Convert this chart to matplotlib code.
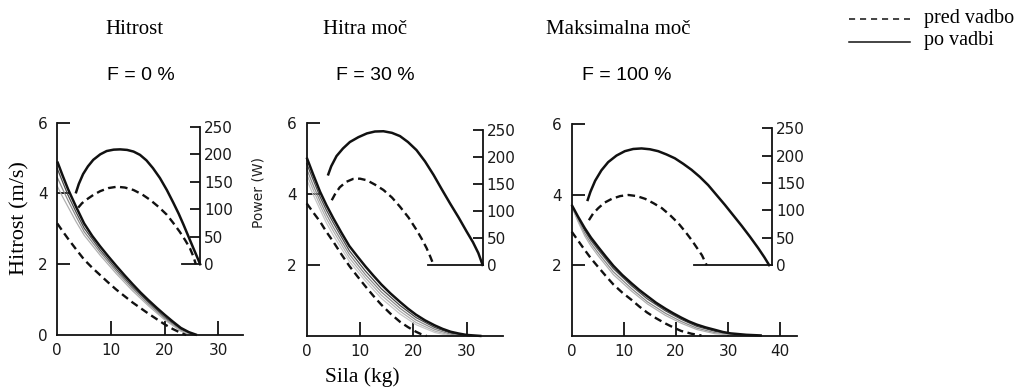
import matplotlib
matplotlib.use("Agg")
import matplotlib.pyplot as plt
from matplotlib.lines import Line2D

W, H = 1024, 388

# ---------------- data ----------------
titles = ["Hitrost", "Hitra moč", "Maksimalna moč"]
loads = ["F = 0 %", "F = 30 %", "F = 100 %"]
x_ticks = [[0, 10, 20, 30], [0, 10, 20, 30], [0, 10, 20, 30, 40]]
y_ticks = [[0, 2, 4, 6], [2, 4, 6], [2, 4, 6]]
power_ticks = [0, 50, 100, 150, 200, 250]
legend_labels = ["pred vadbo", "po vadbi"]

# panel 1 (Hitrost) - velocity (m/s) vs force (kg)
p1_f_post = [0, 1, 2, 3.5, 5, 6.5, 8, 9.5, 11, 12.5, 14, 15.5, 17, 18.5, 20, 21.5, 23, 24.5, 26.0]
p1_v_post = [4.9, 4.5, 4.12, 3.62, 3.15, 2.8, 2.5, 2.22, 1.95, 1.69, 1.44, 1.2, 0.98, 0.77, 0.57, 0.38, 0.2, 0.08, 0]
p1_f_pre = [0, 1, 2, 3.5, 5, 6.5, 8, 9.5, 11, 12.5, 14, 15.5, 17, 18.5, 20, 21.5, 23, 24.0]
p1_v_pre = [3.15, 2.93, 2.72, 2.42, 2.13, 1.9, 1.69, 1.48, 1.28, 1.1, 0.92, 0.76, 0.6, 0.45, 0.3, 0.17, 0.06, 0]
p1_f_g1 = [0, 1, 2, 3.5, 5, 8, 11, 14, 17, 20, 23, 25.8]
p1_v_g1 = [4.7, 4.32, 3.95, 3.47, 3.02, 2.4, 1.86, 1.36, 0.92, 0.5, 0.16, 0]
p1_f_g2 = [0, 1, 2, 3.5, 5, 8, 11, 14, 17, 20, 23, 25.5]
p1_v_g2 = [4.45, 4.12, 3.8, 3.35, 2.92, 2.33, 1.8, 1.31, 0.87, 0.47, 0.13, 0]
p1_f_g3 = [0, 1, 2, 3.5, 5, 8, 11, 14, 17, 20, 23, 25.2]
p1_v_g3 = [4.2, 3.9, 3.62, 3.2, 2.82, 2.25, 1.73, 1.25, 0.82, 0.43, 0.11, 0]
# panel 1 - power (W) vs force (kg)
p1_pf_post = [3.5, 4.0, 4.8, 5.7, 6.7, 8.0, 9.2, 10.5, 11.7, 13.0, 14.2, 15.4, 16.6, 17.8,
              19.1, 20.4, 21.6, 22.6, 23.5, 24.4, 25.3, 26.0, 26.6]
p1_p_post = [131, 146, 164, 178, 190, 200, 206, 208.5, 209, 208, 205, 199, 189, 175,
             157, 135, 112, 92, 72, 51, 30, 14, 0]
p1_pf_pre = [3.9, 4.6, 5.5, 6.7, 8.0, 9.5, 11.1, 12.6, 14.2, 15.8, 17.3, 18.9, 20.4, 21.6,
             22.8, 23.8, 24.7, 25.3, 25.8]
p1_p_pre = [103, 111, 118, 126, 133, 138.5, 141, 139.5, 135, 127, 117, 104, 90, 75,
            59, 44, 29, 15, 0]

# panel 2 (Hitra moč)
p2_f_post = [0, 1.2, 2.5, 3.7, 5, 6.5, 8, 9.5, 11, 12.5, 14, 15.7, 17.5, 19, 20.5, 22.2, 24, 25.5, 27, 28.5, 30, 32.8]
p2_v_post = [5.02, 4.55, 4.06, 3.68, 3.31, 2.91, 2.53, 2.24, 1.96, 1.7, 1.45, 1.2, 0.96, 0.77, 0.6, 0.44, 0.3, 0.2, 0.12, 0.07, 0.03, 0]
p2_f_pre = [0, 1.2, 2.5, 3.7, 5, 6.5, 8, 9.5, 11, 12.5, 14, 15.7, 17.5, 19, 20.5, 21.5, 22.5]
p2_v_pre = [3.73, 3.48, 3.22, 2.93, 2.65, 2.3, 1.97, 1.68, 1.4, 1.13, 0.88, 0.63, 0.4, 0.25, 0.12, 0.05, 0]
p2_f_g1 = [0, 1.2, 2.5, 3.7, 5, 8, 11, 14, 17.5, 20.5, 24, 27, 30.5]
p2_v_g1 = [4.85, 4.4, 3.92, 3.54, 3.18, 2.4, 1.83, 1.33, 0.86, 0.52, 0.24, 0.08, 0]
p2_f_g2 = [0, 1.2, 2.5, 3.7, 5, 8, 11, 14, 17.5, 20.5, 24, 27, 29.5]
p2_v_g2 = [4.7, 4.25, 3.8, 3.42, 3.06, 2.3, 1.73, 1.24, 0.78, 0.45, 0.19, 0.05, 0]
p2_f_g3 = [0, 1.2, 2.5, 3.7, 5, 8, 11, 14, 17.5, 20.5, 24, 27, 28.5]
p2_v_g3 = [4.55, 4.12, 3.68, 3.3, 2.95, 2.2, 1.64, 1.15, 0.7, 0.38, 0.14, 0.02, 0]
p2_f_g4 = [0, 1.2, 2.5, 3.7, 5, 8, 11, 14, 17.5, 20.5, 24, 27]
p2_v_g4 = [4.4, 3.98, 3.56, 3.18, 2.83, 2.1, 1.55, 1.06, 0.62, 0.32, 0.1, 0]
p2_pf_post = [4.05, 4.6, 5.6, 6.8, 8.1, 9.7, 11.3, 12.8, 14.4, 16.0, 17.5, 19.0, 20.6, 22.2,
              23.8, 25.3, 26.9, 28.5, 30.0, 31.2, 32.2, 33.0]
p2_p_post = [168, 183, 202, 216, 228, 237, 244, 247.5, 248, 245, 239, 228, 213, 192,
             167, 141, 114, 88, 62, 42, 22, 0]
p2_pf_pre = [4.7, 5.3, 6.2, 7.4, 8.7, 10.0, 11.3, 12.8, 14.4, 16.0, 17.5, 19.1, 20.6, 21.6,
             22.5, 23.2, 23.8]
p2_p_pre = [120, 131, 144, 154, 159.5, 160, 157, 149, 139, 125, 108, 88, 65, 48,
            31, 15, 0]

# panel 3 (Maksimalna moč)
p3_f_post = [0, 1.2, 2.5, 3.7, 5, 6.5, 8, 9.7, 11.5, 13, 14.5, 16.2, 18, 19.5, 21, 22.5, 24, 25.7, 27.5, 29, 30.5, 33.5, 36.5]
p3_v_post = [3.71, 3.38, 3.05, 2.78, 2.53, 2.25, 1.98, 1.72, 1.48, 1.29, 1.12, 0.93, 0.76, 0.63, 0.51, 0.4, 0.31, 0.23, 0.16, 0.1, 0.06, 0.02, 0]
p3_f_pre = [0, 1.2, 2.5, 3.7, 5, 6.5, 8, 9.7, 11.5, 13, 14.5, 16.2, 18, 19.5, 21, 23, 24.9]
p3_v_pre = [2.95, 2.7, 2.43, 2.19, 1.96, 1.7, 1.45, 1.22, 1.01, 0.82, 0.65, 0.49, 0.34, 0.23, 0.13, 0.05, 0]
p3_f_g1 = [0, 1.2, 2.5, 3.7, 5, 8, 11.5, 14.5, 18, 21, 24, 27.5, 30.5, 35.5]
p3_v_g1 = [3.7, 3.34, 2.98, 2.7, 2.45, 1.9, 1.41, 1.04, 0.7, 0.46, 0.26, 0.12, 0.03, 0]
p3_f_g2 = [0, 1.2, 2.5, 3.7, 5, 8, 11.5, 14.5, 18, 21, 24, 27.5, 33.5]
p3_v_g2 = [3.68, 3.28, 2.9, 2.62, 2.36, 1.81, 1.33, 0.96, 0.63, 0.4, 0.21, 0.08, 0]
p3_f_g3 = [0, 1.2, 2.5, 3.7, 5, 8, 11.5, 14.5, 18, 21, 24, 27.5, 32]
p3_v_g3 = [3.66, 3.24, 2.83, 2.54, 2.28, 1.73, 1.26, 0.9, 0.57, 0.35, 0.17, 0.05, 0]
p3_pf_post = [3.07, 3.6, 4.5, 5.7, 7.0, 8.6, 10.2, 11.8, 13.4, 15.0, 16.6, 18.2, 19.8, 21.4,
              23.0, 24.6, 26.2, 27.8, 29.4, 31.0, 32.6, 34.2, 35.8, 37.0, 37.9]
p3_p_post = [119, 134, 154, 173, 188, 200, 208, 212, 213, 211.5, 208, 202, 195, 185,
             174, 161, 146, 128, 110, 91, 72, 52, 31, 14, 0]
p3_pf_pre = [3.3, 4.1, 5.1, 6.3, 7.7, 9.3, 10.9, 12.5, 14.1, 15.7, 17.3, 18.9, 20.5, 21.8,
             23.0, 24.0, 25.0, 25.9]
p3_p_pre = [82, 94, 104, 114, 121, 126, 128, 126, 121, 113, 104, 91, 76, 61,
            46, 32, 18, 0]

# ---------------- layout (pixels of the 1024x388 image) ----------------
# left px of force 0, px per kg, x-axis end (kg), y px of v=0, px per m/s
panel_geom = [(57.3, 5.37, 34.5, 335.0, 35.4),
              (306.7, 5.33, 36.8, 336.0, 35.55),
              (571.7, 5.21, 43.3, 335.5, 35.2)]
# power axis: x of its spine (kg), start of its base line (kg), top (m/s)
power_geom = [(26.6, 23.3, 5.88), (33.0, 22.8, 5.79), (38.4, 23.5, 5.89)]
title_x = [134, 365, 618]
load_x = [141, 375, 627]

gray_cols = ["#4a4a4a", "#8a8a8a", "#b0b0b0", "#c8c8c8"]
ink = "#111111"
dash = (0, (3.2, 1.9))
tick_font = "DejaVu Sans"
serif = "Liberation Serif"
tick_size = 11

fig = plt.figure(figsize=(W / 100, H / 100), dpi=100)

panels = [
    dict(post=(p1_f_post, p1_v_post), pre=(p1_f_pre, p1_v_pre),
         grays=[(p1_f_g1, p1_v_g1), (p1_f_g2, p1_v_g2), (p1_f_g3, p1_v_g3)],
         ppost=(p1_pf_post, p1_p_post), ppre=(p1_pf_pre, p1_p_pre)),
    dict(post=(p2_f_post, p2_v_post), pre=(p2_f_pre, p2_v_pre),
         grays=[(p2_f_g1, p2_v_g1), (p2_f_g2, p2_v_g2), (p2_f_g3, p2_v_g3),
                (p2_f_g4, p2_v_g4)],
         ppost=(p2_pf_post, p2_p_post), ppre=(p2_pf_pre, p2_p_pre)),
    dict(post=(p3_f_post, p3_v_post), pre=(p3_f_pre, p3_v_pre),
         grays=[(p3_f_g1, p3_v_g1), (p3_f_g2, p3_v_g2), (p3_f_g3, p3_v_g3)],
         ppost=(p3_pf_post, p3_p_post), ppre=(p3_pf_pre, p3_p_pre)),
]

for i, pan in enumerate(panels):
    x0, sx, xmax, y0, sy = panel_geom[i]
    ax = fig.add_axes([x0 / W, (H - y0) / H, xmax * sx / W, 6 * sy / H])
    ax.set_xlim(0, xmax)
    ax.set_ylim(0, 6)
    ax.patch.set_visible(False)
    for s in ["top", "right"]:
        ax.spines[s].set_visible(False)
    for s in ["left", "bottom"]:
        ax.spines[s].set_linewidth(1.3)
        ax.spines[s].set_color(ink)
    ax.spines["left"].set_bounds(0, 6)

    ax.set_yticks(y_ticks[i])
    ax.set_xticks(x_ticks[i])
    ax.tick_params(axis="both", direction="in", width=1.3, color=ink,
                   labelsize=tick_size, labelcolor="#1a1a1a")
    ax.tick_params(axis="x", length=10, pad=6)
    ax.tick_params(axis="y", length=9, pad=7)
    for t in ax.get_xticklabels() + ax.get_yticklabels():
        t.set_family(tick_font)
    # no tick marks at the origin
    ax.xaxis.get_major_ticks()[0].tick1line.set_visible(False)
    if i == 0:
        ax.yaxis.get_major_ticks()[0].tick1line.set_visible(False)

    # velocity curves
    for j, (f, v) in enumerate(pan["grays"]):
        ax.plot(f, v, color=gray_cols[j], lw=0.9, clip_on=False)
    ax.plot(*pan["pre"], color=ink, lw=1.7, ls=dash, clip_on=False)
    ax.plot(*pan["post"], color=ink, lw=1.8, clip_on=False,
            solid_joinstyle="round", solid_capstyle="butt")

    # power axis, inset on the same force scale
    fs, fb, vtop = power_geom[i]
    pax = ax.inset_axes([0, 2, fs, vtop - 2], transform=ax.transData)
    pax.set_xlim(0, fs)
    pax.set_ylim(0, 250)
    pax.patch.set_visible(False)
    for s in ["top", "left"]:
        pax.spines[s].set_visible(False)
    for s in ["right", "bottom"]:
        pax.spines[s].set_linewidth(1.3)
        pax.spines[s].set_color(ink)
    pax.spines["bottom"].set_bounds(fb, fs)
    pax.set_xticks([])
    pax.yaxis.tick_right()
    pax.set_yticks(power_ticks)
    pax.tick_params(axis="y", direction="in", length=7, width=1.3, color=ink,
                    labelsize=tick_size, labelcolor="#1a1a1a", pad=3)
    pax.yaxis.get_major_ticks()[0].tick2line.set_visible(False)
    for t in pax.get_yticklabels():
        t.set_family(tick_font)
    pax.plot(*pan["ppre"], color=ink, lw=1.7, ls=dash, clip_on=False)
    pax.plot(*pan["ppost"], color=ink, lw=1.8, clip_on=False,
             solid_joinstyle="round")
    if i == 0:
        # y pixel of the label centre -> axes fraction
        pax.text(1 + 58 / (fs * sx), (264.5 - 193) / ((vtop - 2) * sy),
                 "Power (W)", transform=pax.transAxes, rotation=90,
                 ha="center", va="center", fontsize=10, family=tick_font,
                 color="#222")

    fig.text(title_x[i] / W, 1 - 29 / H, titles[i], ha="center", va="center",
             family=serif, fontsize=15)
    fig.text(load_x[i] / W, 1 - 75 / H, loads[i], ha="center", va="center",
             family="Liberation Sans", fontsize=14)

fig.text(20 / W, 1 - 218 / H, "Hitrost (m/s)", rotation=90, ha="center",
         va="center", family=serif, fontsize=16)
fig.text(362 / W, 1 - 377 / H, "Sila (kg)", ha="center", va="center",
         family=serif, fontsize=15.5)

# legend drawn by hand in figure pixels
leg_styles = [dict(ls=(0, (4, 3.2))), dict(ls="-")]
for k, (lab, st) in enumerate(zip(legend_labels, leg_styles)):
    yy = 1 - (19 + 23 * k) / H
    fig.add_artist(Line2D([849 / W, 910 / W], [yy, yy], color=ink, lw=1.1,
                          transform=fig.transFigure, **st))
    fig.text(924 / W, yy + 1 / H, lab, ha="left", va="center", family=serif,
             fontsize=14.5)

fig.savefig("out.png", dpi=100)
